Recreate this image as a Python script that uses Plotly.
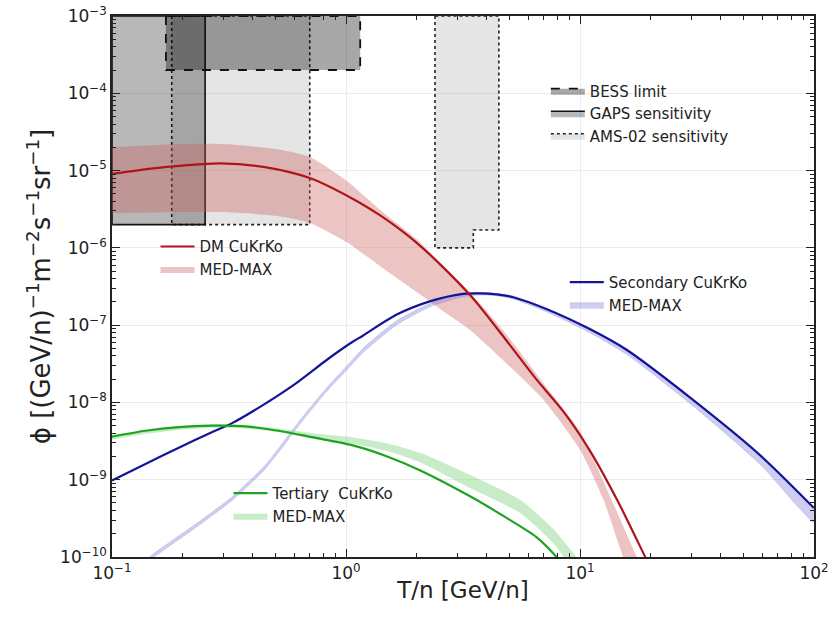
import plotly.graph_objects as go

# ---------------- data ----------------
# Dark-matter (CuKrKo) antideuteron flux
dm_T = [0.1, 0.15, 0.2, 0.29, 0.45, 0.7, 1.09, 1.4, 1.75, 2.0, 2.5, 3.5, 5.0, 6.5, 8.5, 11, 14.4, 19, 22]
dm_flux = [9.1e-6, 1.07e-5, 1.16e-5, 1.24e-5, 1.11e-5, 8.0e-6, 4.17e-6, 2.63e-6, 1.62e-6, 1.17e-6,
           6.3e-7, 2.2e-7, 5.6e-8, 2.0e-8, 7.6e-9, 2.4e-9, 5.5e-10, 1.0e-10, 4e-11]
# DM MED-MAX band
dm_band_T = [0.1, 0.2, 0.3, 0.5, 0.7, 1.0, 1.4, 2.0, 2.7, 3.4, 4.7, 7.0, 10.0, 12.6, 15.3, 17.5, 19.5]
dm_band_lo = [2.8e-6, 2.9e-6, 2.9e-6, 2.6e-6, 2.1e-6, 1.2e-6, 5.8e-7, 2.7e-7, 1.4e-7, 8.6e-8, 3.5e-8,
              1.07e-8, 2.45e-9, 5.5e-10, 1.0e-10, 4e-11, 2e-11]
dm_band_hi = [2.0e-5, 2.2e-5, 2.2e-5, 1.9e-5, 1.5e-5, 7.5e-6, 3.1e-6, 1.3e-6, 5.2e-7, 2.6e-7, 8.5e-8,
              1.75e-8, 4.2e-9, 9.5e-10, 2.5e-10, 1.0e-10, 5e-11]

# Secondary (CuKrKo)
sec_T = [0.1, 0.139, 0.193, 0.267, 0.326, 0.438, 0.607, 0.843, 1.06, 1.18, 1.64, 2.28, 3.16, 3.73,
         4.4, 5.18, 7.18, 11, 15.8, 30.4, 58.6, 100]
sec_flux = [9.8e-10, 1.6e-9, 2.6e-9, 4.1e-9, 5.4e-9, 9.1e-9, 1.74e-8, 3.7e-8, 6.0e-8, 7.3e-8, 1.36e-7,
            2.03e-7, 2.54e-7, 2.58e-7, 2.5e-7, 2.3e-7, 1.62e-7, 8.9e-8, 4.8e-8, 1.08e-8, 2.1e-9, 4.3e-10]
# Secondary MED-MAX band
sec_band_T = [0.13, 0.148, 0.227, 0.326, 0.452, 0.628, 0.817, 1.06, 1.18, 1.64, 2.28, 3.16, 3.73,
              4.4, 5.18, 7.18, 11, 15.8, 30.4, 58.6, 100]
sec_band_lo = [6.6e-11, 0.95e-10, 2.38e-10, 5.4e-10, 1.38e-9, 5.0e-9, 1.33e-8, 3.1e-8, 4.4e-8, 1.0e-7,
               1.72e-7, 2.33e-7, 2.45e-7, 2.39e-7, 2.18e-7, 1.49e-7, 8.0e-8, 4.2e-8, 9.0e-9, 1.6e-9, 2.8e-10]
sec_band_hi = [7.4e-11, 1.06e-10, 2.65e-10, 6.0e-10, 1.55e-9, 5.6e-9, 1.48e-8, 3.5e-8, 5.0e-8, 1.13e-7,
               1.9e-7, 2.58e-7, 2.66e-7, 2.58e-7, 2.38e-7, 1.65e-7, 9.2e-8, 5.0e-8, 1.1e-8, 2.1e-9, 4.0e-10]

# Tertiary (CuKrKo)
ter_T = [0.1, 0.139, 0.193, 0.267, 0.371, 0.515, 0.716, 1.06, 1.5, 2.1, 3.39, 4.7, 6.53, 7.94, 9.0]
ter_flux = [3.6e-9, 4.3e-9, 4.8e-9, 5.0e-9, 4.9e-9, 4.3e-9, 3.55e-9, 2.8e-9, 2.0e-9, 1.3e-9,
            6.1e-10, 3.4e-10, 1.8e-10, 1.0e-10, 6e-11]
# Tertiary MED-MAX band
ter_band_T = [0.1, 0.139, 0.193, 0.267, 0.371, 0.515, 0.716, 1.06, 1.5, 2.1, 3.39, 5.55, 7.7, 9.0, 9.7, 10.5]
ter_band_lo = [3.3e-9, 3.9e-9, 4.4e-9, 4.7e-9, 4.6e-9, 4.1e-9, 3.4e-9, 2.95e-9, 2.35e-9, 1.65e-9,
               7.8e-10, 3.7e-10, 1.5e-10, 8e-11, 6e-11, 4e-11]
ter_band_hi = [3.8e-9, 4.4e-9, 4.9e-9, 5.2e-9, 5.1e-9, 4.6e-9, 4.0e-9, 3.55e-9, 2.95e-9, 2.2e-9,
               1.15e-9, 5.5e-10, 2.3e-10, 1.3e-10, 1.0e-10, 7e-11]

# Experimental regions: [T_min, T_max] edges, flux floor, common ceiling
flux_ceiling = 1e-3
bess_T = [0.17, 1.15]
bess_floor = [2e-4]
gaps_T = [0.1, 0.25]
gaps_floor = [2e-6]
ams_low_T = [0.18, 0.7]
ams_low_floor = [2e-6]
ams_high_T = [2.4, 3.5, 4.5]
ams_high_floor = [1e-6, 1.7e-6]

x_tick_exp = [-1, 0, 1, 2]
y_tick_exp = [-10, -9, -8, -7, -6, -5, -4, -3]
minor_mantissas = [2, 3, 4, 5, 6, 7, 8, 9]


# ---------------- helpers ----------------
def step_region(edges, floors, top):
    """Closed outline of a region bounded below by a step function."""
    xs = [edges[0]]
    ys = [top]
    for i, f in enumerate(floors):
        xs += [edges[i], edges[i + 1]]
        ys += [f, f]
    xs += [edges[-1], edges[0]]
    ys += [top, top]
    return xs, ys


def band(xs, lo, hi):
    return list(xs) + list(xs)[::-1], list(lo) + list(hi)[::-1]


def pow_label(e):
    return "10<sup>" + (str(e) if e >= 0 else "\u2212" + str(-e)) + "</sup>"


def minor_vals(exps):
    return [m * 10.0 ** e for e in exps[:-1] for m in minor_mantissas]


FONT = "DejaVu Sans"
fig = go.Figure()

# Experimental regions
ax, ay = step_region(ams_low_T, ams_low_floor, flux_ceiling)
bx, by = step_region(ams_high_T, ams_high_floor, flux_ceiling)
fig.add_trace(go.Scatter(x=ax + [None] + bx, y=ay + [None] + by, mode="lines", fill="toself",
                         fillcolor="rgba(0,0,0,0.10)", line=dict(color="#222", width=1.6, dash="dot"),
                         name="AMS-02 sensitivity", legend="legend4", legendrank=3, legendgroup="ams",
                         hoverinfo="skip"))
gx, gy = step_region(gaps_T, gaps_floor, flux_ceiling)
fig.add_trace(go.Scatter(x=gx, y=gy, mode="lines", fill="toself",
                         fillcolor="rgba(0,0,0,0.28)", line=dict(color="#111", width=1.6),
                         name="GAPS sensitivity", legend="legend4", legendrank=2, legendgroup="gaps",
                         hoverinfo="skip"))
ex, ey = step_region(bess_T, bess_floor, flux_ceiling)
fig.add_trace(go.Scatter(x=ex, y=ey, mode="lines", fill="toself",
                         fillcolor="rgba(0,0,0,0.34)", line=dict(color="#111", width=1.8, dash="dash"),
                         name="BESS limit", legend="legend4", legendrank=1, legendgroup="bess",
                         hoverinfo="skip"))

# Bands
x_, y_ = band(dm_band_T, dm_band_lo, dm_band_hi)
fig.add_trace(go.Scatter(x=x_, y=y_, mode="lines", fill="toself", fillcolor="rgba(205,92,92,0.36)",
                         line=dict(width=0, shape="spline", smoothing=0.6), name="MED-MAX",
                         legend="legend", legendrank=2, legendgroup="dmb", hoverinfo="skip"))
x_, y_ = band(sec_band_T, sec_band_lo, sec_band_hi)
fig.add_trace(go.Scatter(x=x_, y=y_, mode="lines", fill="toself", fillcolor="rgba(125,125,215,0.38)",
                         line=dict(width=0.8, color="rgba(125,125,215,0.30)", shape="spline", smoothing=0.6),
                         name="MED-MAX", legend="legend2", legendrank=2, legendgroup="secb",
                         hoverinfo="skip"))
x_, y_ = band(ter_band_T, ter_band_lo, ter_band_hi)
fig.add_trace(go.Scatter(x=x_, y=y_, mode="lines", fill="toself", fillcolor="rgba(110,205,110,0.38)",
                         line=dict(width=0, shape="spline", smoothing=0.6), name="MED-MAX",
                         legend="legend3", legendrank=2, legendgroup="terb", hoverinfo="skip"))

# Lines
fig.add_trace(go.Scatter(x=sec_T, y=sec_flux, mode="lines",
                         line=dict(color="#14149a", width=2.2, shape="spline", smoothing=0.8),
                         name="Secondary CuKrKo", legend="legend2", legendrank=1, legendgroup="sec"))
fig.add_trace(go.Scatter(x=ter_T, y=ter_flux, mode="lines",
                         line=dict(color="#1fa21f", width=2.2, shape="spline", smoothing=0.8),
                         name="Tertiary  CuKrKo", legend="legend3", legendrank=1, legendgroup="ter"))
fig.add_trace(go.Scatter(x=dm_T, y=dm_flux, mode="lines",
                         line=dict(color="#b0141a", width=2.2, shape="spline", smoothing=0.8),
                         name="DM CuKrKo", legend="legend", legendrank=1, legendgroup="dm"))


def legend_style(x, y):
    return dict(x=x, y=y, xanchor="left", yanchor="top", bgcolor="rgba(0,0,0,0)",
                font=dict(family=FONT, size=15, color="#222"), tracegroupgap=3,
                itemwidth=34, traceorder="normal")


axis_common = dict(type="log", showline=True, linecolor="#222", linewidth=1.6, mirror="ticks",
                   ticks="inside", ticklen=8, tickwidth=1.2, tickcolor="#222", automargin=False,
                   showgrid=True, gridcolor="#ececec", gridwidth=1, zeroline=False,
                   ticklabeloverflow="allow",
                   tickfont=dict(family=FONT, size=17, color="#222"))

fig.update_layout(
    width=830, height=619,
    margin=dict(l=112, r=16, t=16, b=62, autoexpand=False),
    paper_bgcolor="white", plot_bgcolor="white",
    font=dict(family=FONT, color="#222"),
    showlegend=True,
    legend=legend_style(0.062, 0.604),
    legend2=legend_style(0.645, 0.538),
    legend3=legend_style(0.166, 0.148),
    legend4=legend_style(0.618, 0.892),
    xaxis=dict(axis_common, range=[-1, 2], tickmode="array",
               tickvals=[10.0 ** e for e in x_tick_exp], ticktext=[pow_label(e) for e in x_tick_exp],
               minor=dict(tickmode="array", tickvals=minor_vals(x_tick_exp), ticks="inside",
                          ticklen=4, tickwidth=1, tickcolor="#222", showgrid=False),
               title=dict(text="T/n [GeV/n]", font=dict(family=FONT, size=23), standoff=0)),
    yaxis=dict(axis_common, range=[-10, -3], tickmode="array",
               tickvals=[10.0 ** e for e in y_tick_exp], ticktext=[pow_label(e) for e in y_tick_exp],
               minor=dict(tickmode="array", tickvals=minor_vals(y_tick_exp), ticks="inside",
                          ticklen=4, tickwidth=1, tickcolor="#222", showgrid=False),
               title=dict(text="ϕ [(GeV/n)<sup>−1</sup>m<sup>−2</sup>s<sup>−1</sup>sr<sup>−1</sup>]",
                          font=dict(family=FONT, size=26), standoff=2)),
)

# Remove the browser's default 8 px page margin so the 830x619 figure fills the window.
fig.write_html("out.html", config={"displayModeBar": False},
               post_script="document.body.style.margin='0px';document.body.style.overflow='hidden';")
